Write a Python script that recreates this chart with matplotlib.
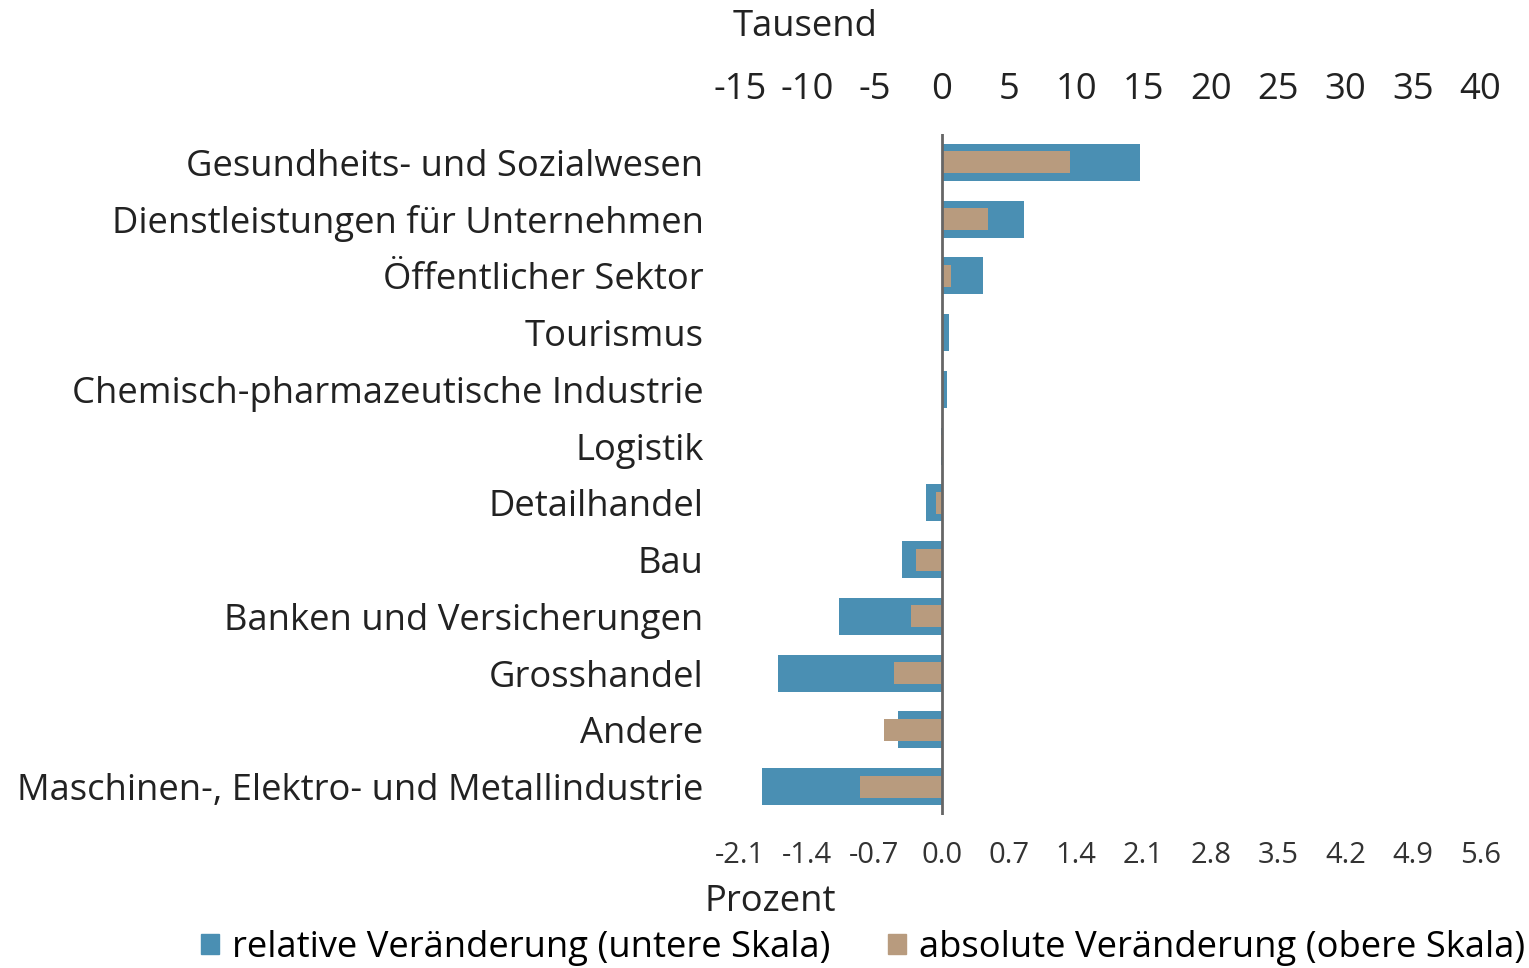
import numpy as np
import matplotlib.pyplot as plt
from matplotlib.patches import Patch

plt.rcParams['font.family'] = ['Open Sans', 'DejaVu Sans']

kategorien = ["Gesundheits- und Sozialwesen",
              "Dienstleistungen für Unternehmen",
              "Öffentlicher Sektor",
              "Tourismus",
              "Chemisch-pharmazeutische Industrie",
              "Logistik",
              "Detailhandel",
              "Bau",
              "Banken und Versicherungen",
              "Grosshandel",
              "Andere",
              "Maschinen-, Elektro- und Metallindustrie"]
# relative Veraenderung in Prozent (untere Skala)
relativ = [2.06, 0.855, 0.43, 0.076, 0.052, -0.01, -0.166, -0.415, -1.07, -1.70, -0.457, -1.87]
# absolute Veraenderung in Tausend (obere Skala)
absolut = [9.53, 3.44, 0.67, 0.1, 0.05, -0.05, -0.45, -1.91, -2.28, -3.52, -4.26, -6.05]

ticks_prozent = [-2.1, -1.4, -0.7, 0.0, 0.7, 1.4, 2.1, 2.8, 3.5, 4.2, 4.9, 5.6]
ticks_tausend = [-15, -10, -5, 0, 5, 10, 15, 20, 25, 30, 35, 40]

blau = "#4a8fb3"
braun = "#b89b7e"
fs = 26.2

fig = plt.figure(figsize=(15.29, 9.68), dpi=100)
ax = fig.add_axes([0.4838, 0.158, 0.4842, 0.7036])
y = np.arange(len(kategorien))

ax.barh(y, relativ, height=0.65, color=blau)
ax.set_xlim(-2.1, 5.6)
ax.set_ylim(len(kategorien) - 0.5, -0.5)
ax.set_xticks(ticks_prozent)
ax.set_xticklabels(["%.1f" % t for t in ticks_prozent], fontsize=21, color="#333333")
ax.set_yticks(y)
ax.set_yticklabels(kategorien, fontsize=fs, color="#222222")
ax.tick_params(axis="both", length=0)
ax.tick_params(axis="y", pad=26)
ax.tick_params(axis="x", pad=18.5)

ax2 = ax.twiny()
ax2.barh(y, absolut, height=0.39, color=braun)
ax2.set_xlim(-15, 40)
ax2.set_xticks(ticks_tausend)
ax2.set_xticklabels([str(t) for t in ticks_tausend], fontsize=fs, color="#222222")
ax2.tick_params(axis="x", length=0, pad=19)
ax2.axvline(0, color="#666666", linewidth=2)

for a in (ax, ax2):
    for s in a.spines.values():
        s.set_visible(False)

fig.text(805 / 1529, 1 - 27 / 968, "Tausend", fontsize=fs, ha="center", va="center", color="#222222")
fig.text(770 / 1529, 1 - 902 / 968, "Prozent", fontsize=fs, ha="center", va="center", color="#222222")

handles = [Patch(color=blau, label="relative Veränderung (untere Skala)"),
           Patch(color=braun, label="absolute Veränderung (obere Skala)")]
fig.legend(handles=handles, loc="center", bbox_to_anchor=(863 / 1529, 1 - 948 / 968), ncol=2,
           frameon=False, fontsize=fs, handlelength=0.5, handleheight=0.5,
           handletextpad=0.35, columnspacing=1.6, borderpad=0)

fig.savefig("out.png", dpi=100)
